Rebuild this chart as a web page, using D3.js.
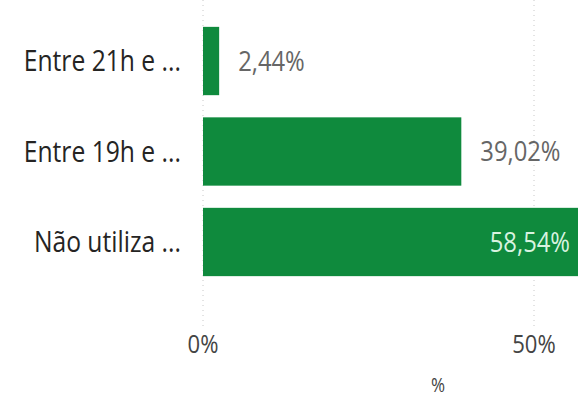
<!DOCTYPE html>
<html><head><meta charset="utf-8">
<script src="https://cdn.jsdelivr.net/npm/d3@7"></script>
<style>body{margin:0;background:#fff}svg{display:block}text{font-family:"Open Sans","Noto Sans",sans-serif}</style>
</head><body><svg id="c" width="578" height="400"></svg>
<script>
const categories = ["Entre 21h e ...", "Entre 19h e ...", "Não utiliza ..."];
const values = [2.44, 39.02, 58.54];
const valueLabels = ["2,44%", "39,02%", "58,54%"];
const tickValues = [0, 50];
const tickLabels = ["0%", "50%"];
const axisTitle = "%";

const SX = 0.85;
const svg = d3.select("#c");
const x = d3.scaleLinear().domain([0, 50]).range([203, 534]);
const y = d3.scaleBand().domain(categories).range([16, 287]).paddingInner(0.245).paddingOuter(0.12);
const cy = c => y(c) + y.bandwidth() / 2;

function place(sel, fx, fy, fs) {
  sel.attr("transform", (d, i) => `translate(${fx(d, i)},${fy(d, i) + fs * 0.357}) scale(${SX},1)`)
     .attr("font-size", fs);
}

const g = svg.append("g");
g.selectAll("line.grid").data(tickValues).join("line")
  .attr("x1", d => x(d)).attr("x2", d => x(d)).attr("y1", 0).attr("y2", 330)
  .attr("stroke", "#c8c8c8").attr("stroke-width", 1).attr("stroke-dasharray", "1,4");

g.selectAll("rect").data(values).join("rect")
  .attr("x", x(0)).attr("y", (d, i) => y(categories[i]))
  .attr("width", d => x(d) - x(0)).attr("height", y.bandwidth())
  .attr("fill", "#0f8a3d");

g.selectAll("text.cat").data(categories).join("text")
  .attr("class", "cat").attr("text-anchor", "end").attr("fill", "#252423").text(d => d)
  .call(place, () => 181, d => cy(d), 29);

g.selectAll("text.val").data(values).join("text")
  .attr("class", "val")
  .attr("text-anchor", (d, i) => i === 2 ? "end" : "start")
  .attr("fill", (d, i) => i === 2 ? "#d9f3e0" : "#666")
  .text((d, i) => valueLabels[i])
  .call(place, (d, i) => i === 2 ? 570 : x(d) + 19, (d, i) => cy(categories[i]), 28);

g.selectAll("text.tick").data(tickValues).join("text")
  .attr("class", "tick").attr("text-anchor", "middle").attr("fill", "#444")
  .text((d, i) => tickLabels[i])
  .call(place, d => x(d), () => 344, 26);

svg.append("text").datum(0).attr("text-anchor", "middle").attr("fill", "#444").text(axisTitle)
  .call(place, () => 438, () => 385, 20);
</script></body></html>
